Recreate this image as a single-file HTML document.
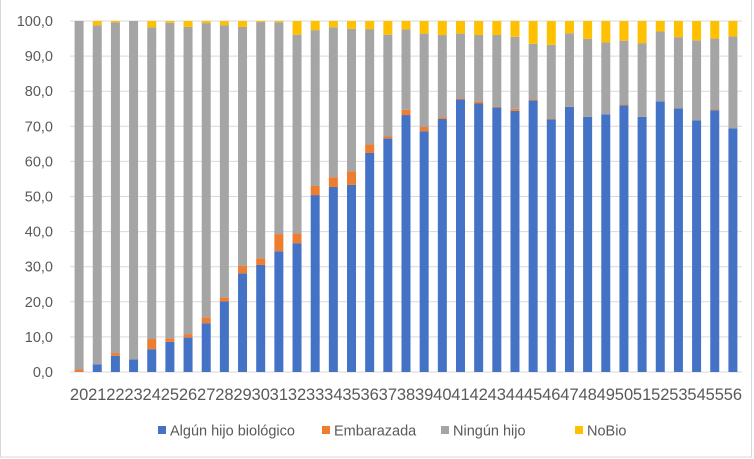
<!DOCTYPE html>
<html><head><meta charset="utf-8"><style>
body{margin:0;background:#fff;}
svg{display:block;font-family:"Liberation Sans",sans-serif;}
</style></head><body>
<svg id="c" width="754" height="459">
<rect x="0.5" y="-2" width="751" height="459" fill="#fff" stroke="#d9d9d9"/>
<g id="grid"></g><g id="bars"></g><g id="xl"></g><g id="yl"></g><g id="legend"></g>
</svg>
<script>
const categories=[20,21,22,23,24,25,26,27,28,29,30,31,32,33,34,35,36,37,38,39,40,41,42,43,44,45,46,47,48,49,50,51,52,53,54,55,56];
const bio=[0,2.2,4.6,3.6,6.5,8.6,9.8,13.9,20.1,28.1,30.5,34.4,36.7,50.4,52.7,53.3,62.4,66.5,73.2,68.6,72.1,77.7,76.5,75.4,74.4,77.4,72.0,75.5,72.7,73.4,76.0,72.7,77.1,75.1,71.7,74.6,69.4];
const emb=[0.7,0,0.8,0,2.9,1.0,1.0,1.7,1.1,2.2,1.9,4.9,2.8,2.6,2.8,3.9,2.4,0.6,1.5,1.2,0.5,0.3,0.6,0.2,0.6,0.3,0.2,0.1,0,0,0.2,0,0,0,0,0.2,0];
const nobio=[0,1.2,0.4,0,1.8,0.5,1.7,0.6,1.2,1.7,0.3,0.4,3.9,2.6,1.8,2.2,2.3,3.9,2.4,3.6,4.0,3.6,4.0,4.0,4.5,6.5,6.8,3.5,5.1,6.1,5.6,6.3,3.0,4.6,5.5,5.0,4.4];
const ninguno=categories.map((c,i)=>Math.max(0,100-bio[i]-emb[i]-nobio[i]));
const yTicks=[0,10,20,30,40,50,60,70,80,90,100];
const NS='http://www.w3.org/2000/svg';
const L=70,R=742,T=21,B=372;
const y=v=>B-(v/100)*(B-T);
const bw=(R-L)/categories.length;
const x=i=>L+bw*(i+0.5);
function mk(t,a,p){const e=document.createElementNS(NS,t);for(const k in a)e.setAttribute(k,a[k]);p.appendChild(e);return e;}
const g=document.getElementById('grid'),yl=document.getElementById('yl');
yTicks.forEach(v=>{
 const l=mk('line',{x1:L,x2:R,y1:y(v),y2:y(v),stroke:'#d9d9d9','stroke-width':1},g);
 
 
 const t=mk('text',{x:53,y:y(v)+5,'text-anchor':'end','font-size':14.5,fill:'#595959'},yl);
 t.textContent=v.toFixed(1).replace('.',',');
 
 
});
const series=[[bio,'#4472c4','bio'],[emb,'#ed7d31','embarazada'],[ninguno,'#a5a5a5','ningun-hijo'],[nobio,'#ffc000','nobio']];
const bg=document.getElementById('bars'),xl=document.getElementById('xl');
categories.forEach((c,i)=>{
 let acc=0;
 series.forEach(([arr,col,nm])=>{
  const v=arr[i];
  const r=mk('rect',{x:x(i)-4.5,y:y(acc+v),width:9,height:Math.max(0,y(acc)-y(acc+v)),fill:col},bg);
  
  
  acc+=v;
 });
 const t=mk('text',{x:x(i),y:400,'text-anchor':'middle','font-size':16.5,fill:'#595959'},xl);
 t.textContent=c;
 
 
});
mk('line',{x1:L,x2:R,y1:B,y2:B,stroke:'#d9d9d9'},g);
const lg=document.getElementById('legend');
const legendItems=[['Algún hijo biológico','#4472c4',158],['Embarazada','#ed7d31',322],['Ningún hijo','#a5a5a5',441],['NoBio','#ffc000',575]];
legendItems.forEach(([n,col,lx])=>{
 const r=mk('rect',{x:lx,y:426,width:8,height:8,fill:col},lg);
 
 
 const t=mk('text',{x:lx+12,y:435.5,'font-size':14.5,fill:'#595959'},lg);
 t.textContent=n;
 
 
});
</script>
</body></html>
